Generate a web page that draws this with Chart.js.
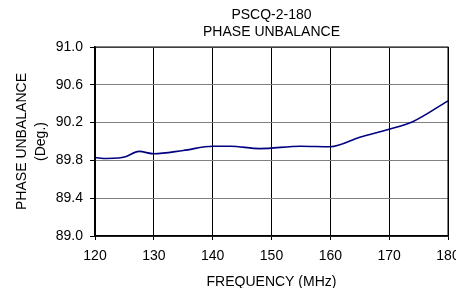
<!DOCTYPE html>
<html>
<head>
<meta charset="utf-8">
<script src="https://cdn.jsdelivr.net/npm/chart.js@4"></script>
<style>
  html, body { margin: 0; padding: 0; background: #fff; }
  #wrap { width: 456px; height: 288px; position: relative; }
</style>
</head>
<body>
<div id="wrap"><canvas id="c"></canvas></div>
<script>
const titleLines = ['PSCQ-2-180', 'PHASE UNBALANCE'];
const freqMHz = [120, 122, 124, 125, 127.5, 130, 135, 140, 143, 148, 155, 160, 165, 170, 174, 180];
const phaseDeg = [89.83, 89.82, 89.825, 89.835, 89.895, 89.87, 89.905, 89.95, 89.95, 89.925, 89.95, 89.945, 90.045, 90.13, 90.21, 90.43];
const xTicks = [120, 130, 140, 150, 160, 170, 180];
const yTicks = [89.0, 89.4, 89.8, 90.2, 90.6, 91.0];

const fontFamily = '"Liberation Sans", Arial, sans-serif';
const font = { family: fontFamily, size: 14 };

// title is centred over the plot area, not the canvas, so draw it here
const plotTitle = {
  id: 'plotTitle',
  afterDraw(chart) {
    const { ctx, chartArea: a } = chart;
    ctx.save();
    ctx.fillStyle = '#000';
    ctx.font = `14px ${fontFamily}`;
    ctx.textAlign = 'center';
    ctx.textBaseline = 'middle';
    const cx = (a.left + a.right) / 2;
    titleLines.forEach((line, i) => ctx.fillText(line, cx, 15 + i * 17));
    ctx.strokeStyle = '#000';
    ctx.lineWidth = 1;
    ctx.strokeRect(a.left, a.top, a.right - a.left, a.bottom - a.top);
    ctx.restore();
  }
};

new Chart(document.getElementById('c'), {
  type: 'line',
  data: {
    datasets: [{
      data: freqMHz.map((f, i) => ({ x: f, y: phaseDeg[i] })),
      borderColor: '#000080',
      borderWidth: 1.6,
      pointRadius: 0,
      cubicInterpolationMode: 'monotone',
      fill: false
    }]
  },
  options: {
    responsive: true,
    maintainAspectRatio: false,
    animation: false,
    layout: { padding: { left: 0, right: 8, top: 47, bottom: 0 } },
    plugins: {
      legend: { display: false },
      tooltip: { enabled: false },
      title: { display: false }
    },
    scales: {
      x: {
        type: 'linear',
        min: 120,
        max: 180,
        afterBuildTicks: (s) => { s.ticks = xTicks.map((v) => ({ value: v })); },
        afterFit: (s) => { s.height = 52; s.paddingLeft = 0; s.paddingRight = 0; },
        ticks: { color: '#000', font: font, padding: 8, maxRotation: 0 },
        grid: { color: '#000', lineWidth: 1, tickLength: 4, tickColor: '#000' },
        border: { color: '#000', width: 1.5 },
        title: {
          display: true,
          text: 'FREQUENCY (MHz)',
          color: '#000',
          font: { ...font, lineHeight: 0.9 },
          padding: { top: 0, bottom: 0 }
        }
      },
      y: {
        type: 'linear',
        min: 89,
        max: 91,
        afterBuildTicks: (s) => { s.ticks = yTicks.map((v) => ({ value: v })); },
        afterFit: (s) => { s.width = 95; s.paddingTop = 0; s.paddingBottom = 0; },
        ticks: {
          color: '#000',
          font: font,
          padding: 7,
          callback: (v) => Number(v).toFixed(1)
        },
        grid: { color: '#808080', lineWidth: 1, tickLength: 5, tickColor: '#000' },
        border: { color: '#000', width: 1.5 },
        title: {
          display: true,
          text: ['PHASE UNBALANCE', '(Deg.)'],
          color: '#000',
          font: { ...font, lineHeight: 1.36 },
          padding: { top: 13, bottom: 0 }
        }
      }
    }
  },
  plugins: [plotTitle]
});
</script>
</body>
</html>
